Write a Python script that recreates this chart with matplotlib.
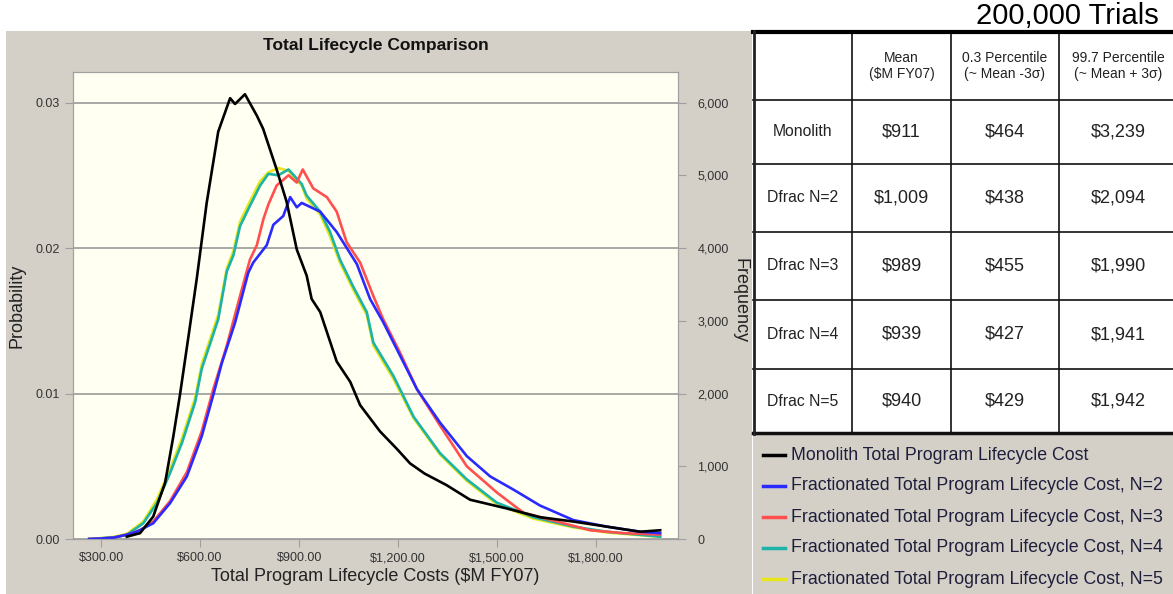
"""Total lifecycle cost distributions: monolith vs fractionated architectures."""

import matplotlib

matplotlib.use("Agg")
import matplotlib.pyplot as plt
from matplotlib.lines import Line2D
from matplotlib.ticker import FixedLocator, FuncFormatter

plt.rcParams["font.family"] = ["Liberation Sans", "DejaVu Sans"]

TRIALS = 200000

# Curves (cost in $M FY07, probability per bin)
mono_x = [378, 418, 458, 494, 519, 539, 565, 590, 620, 655, 691, 706, 736, 772,
          791, 832, 862, 893, 923, 938, 964, 1014, 1055, 1085, 1145, 1196, 1236,
          1280, 1347, 1418, 1529, 1630, 1731, 1832, 1933, 1994]
mono_p = [0.00016, 0.0004, 0.00154, 0.00386, 0.00706, 0.0099, 0.01395, 0.0179,
          0.0231, 0.0280, 0.0303, 0.0299, 0.03057, 0.0291, 0.0282, 0.0254,
          0.0232, 0.0199, 0.0181, 0.0165, 0.0156, 0.0122, 0.0108, 0.0092,
          0.0074, 0.0062, 0.0052, 0.0045, 0.0037, 0.0027, 0.0021, 0.0015,
          0.0012, 0.00085, 0.0005, 0.0006]

n2_x = [264, 300, 340, 378, 408, 458, 509, 560, 605, 640, 666, 706, 746, 761,
        802, 822, 852, 873, 893, 908, 964, 1014, 1075, 1115, 1155, 1206, 1257,
        1327, 1408, 1479, 1549, 1630, 1731, 1832, 1933, 1994]
n2_p = [0.0, 0.00003, 0.0001, 0.0003, 0.0005, 0.00108, 0.00246, 0.0043, 0.00706,
        0.0099, 0.0121, 0.01487, 0.0183, 0.0190, 0.0202, 0.0216, 0.0222, 0.0235,
        0.0228, 0.0231, 0.0225, 0.0211, 0.0189, 0.0165, 0.0149, 0.0126, 0.0103,
        0.0080, 0.0057, 0.0043, 0.0034, 0.0023, 0.0013, 0.00085, 0.0005, 0.0004]

n3_x = [264, 300, 340, 378, 418, 458, 509, 560, 605, 640, 681, 721, 751, 772,
        792, 807, 832, 868, 893, 911, 943, 984, 1014, 1044, 1085, 1125, 1155,
        1206, 1257, 1327, 1408, 1499, 1580, 1681, 1782, 1883, 1994]
n3_p = [0.0, 0.00003, 0.0001, 0.0003, 0.0006, 0.0012, 0.0026, 0.0046, 0.0074,
        0.0103, 0.0133, 0.0167, 0.0192, 0.0202, 0.0220, 0.0230, 0.0243, 0.0250,
        0.0245, 0.0254, 0.0241, 0.0235, 0.0225, 0.0204, 0.0190, 0.0167, 0.0151,
        0.0128, 0.0103, 0.0078, 0.0050, 0.0032, 0.0018, 0.0012, 0.0006, 0.0004,
        0.0003]

n4_x = [264, 300, 340, 378, 428, 469, 509, 545, 585, 605, 655, 681, 701, 721,
        751, 782, 807, 837, 868, 908, 923, 964, 994, 1024, 1065, 1105, 1125,
        1186, 1247, 1327, 1408, 1499, 1610, 1731, 1832, 1994]
n4_p = [0.0, 0.00005, 0.00012, 0.00028, 0.00108, 0.00246, 0.00453, 0.0066,
        0.0094, 0.0117, 0.0151, 0.0184, 0.0195, 0.0215, 0.0229, 0.0243, 0.0251,
        0.0250, 0.0254, 0.0244, 0.0236, 0.0225, 0.0211, 0.0192, 0.0173, 0.0156,
        0.0135, 0.0112, 0.0084, 0.0059, 0.0041, 0.0025, 0.0015, 0.00085,
        0.0005, 0.00016]

n5_x = n4_x
n5_p = [0.0, 0.00006, 0.00015, 0.00035, 0.0012, 0.0027, 0.0048, 0.0069, 0.0097,
        0.0120, 0.0154, 0.0186, 0.0198, 0.0218, 0.0232, 0.0246, 0.0252, 0.0255,
        0.0253, 0.0243, 0.0234, 0.0223, 0.0208, 0.0190, 0.0171, 0.0154, 0.0133,
        0.0110, 0.0083, 0.0058, 0.0040, 0.0024, 0.0014, 0.0008, 0.00045,
        0.00015]

series_labels = [
    "Monolith Total Program Lifecycle Cost",
    "Fractionated Total Program Lifecycle Cost, N=2",
    "Fractionated Total Program Lifecycle Cost, N=3",
    "Fractionated Total Program Lifecycle Cost, N=4",
    "Fractionated Total Program Lifecycle Cost, N=5",
]
series_colors = ["#000000", "#2a2aff", "#ff4f4f", "#1db3a6", "#e6e61a"]

x_ticks = [300, 600, 900, 1200, 1500, 1800]
prob_ticks = [0.0, 0.01, 0.02, 0.03]
freq_ticks = [0, 1000, 2000, 3000, 4000, 5000, 6000]

# Summary table
table_cols = ["Mean\n($M FY07)", "0.3 Percentile\n(~ Mean -3σ)",
              "99.7 Percentile\n(~ Mean + 3σ)"]
table_rows = ["Monolith", "Dfrac N=2", "Dfrac N=3", "Dfrac N=4", "Dfrac N=5"]
mean_cost = [911, 1009, 989, 939, 940]
p003_cost = [464, 438, 455, 427, 429]
p997_cost = [3239, 2094, 1990, 1941, 1942]

W, H = 1173, 594
fig = plt.figure(figsize=(W / 100, H / 100), dpi=100)
fig.patch.set_facecolor("white")

# Overlay in pixel coordinates for panels, table and legend
ov = fig.add_axes([0, 0, 1, 1], zorder=0)
ov.set_xlim(0, W)
ov.set_ylim(H, 0)
ov.axis("off")
ov.add_patch(plt.Rectangle((6, 31), 746, H - 31, facecolor="#d4d0c8",
                           edgecolor="none"))
ov.add_patch(plt.Rectangle((753, 434), W - 753, H - 434, facecolor="#d4d0c8",
                           edgecolor="none"))

ax = fig.add_axes([73 / W, 1 - 539 / H, 605 / W, 467 / H], zorder=2)
ax.set_facecolor("#fffff2")
curves = [(mono_x, mono_p), (n2_x, n2_p), (n3_x, n3_p), (n4_x, n4_p), (n5_x, n5_p)]
for i in reversed(range(len(curves))):
    xs, ps = curves[i]
    ax.plot(xs, ps, color=series_colors[i], lw=1.9, zorder=3 + (4 - i))

ax.set_xlim(215, 2048)
ax.set_ylim(0, 0.0321)
ax.xaxis.set_major_locator(FixedLocator(x_ticks))
ax.xaxis.set_major_formatter(FuncFormatter(lambda v, _: f"${v:,.2f}"))
ax.yaxis.set_major_locator(FixedLocator(prob_ticks))
ax.yaxis.set_major_formatter(FuncFormatter(lambda v, _: f"{v:.2f}"))
ax.grid(axis="y", color="#9a9a9a", lw=1.2)
ax.set_axisbelow(True)
for s in ax.spines.values():
    s.set_color("#a0a0a0")
ax.tick_params(colors="#a0a0a0", labelcolor="#333333", labelsize=9, length=6)
ax.set_title("Total Lifecycle Comparison", fontsize=12.5, fontweight="bold",
             pad=16, color="#111111")
ax.set_ylabel("Probability", fontsize=13, color="#222222")
ax.yaxis.set_label_coords(-0.078, 0.5)
ax.set_xlabel("Total Program Lifecycle Costs ($M FY07)", fontsize=13,
              color="#222222")
ax.xaxis.set_label_coords(0.5, -0.062)

ax2 = ax.twinx()
ax2.set_ylim(ax.get_ylim()[0] * TRIALS, ax.get_ylim()[1] * TRIALS)
ax2.yaxis.set_major_locator(FixedLocator(freq_ticks))
ax2.yaxis.set_major_formatter(FuncFormatter(lambda v, _: f"{v:,.0f}"))
for s in ax2.spines.values():
    s.set_color("#a0a0a0")
ax2.tick_params(colors="#a0a0a0", labelcolor="#333333", labelsize=9, length=6,
                pad=8)
fig.text(740 / W, 1 - 300 / H, "Frequency", rotation=270, ha="center",
         va="center", fontsize=13, color="#222222")

# Table
col_edges = [753, 852, 951, 1059, 1178]
row_edges = [32, 100, 164, 232, 300, 369, 433]
for yy in row_edges[1:-1]:
    ov.plot([753, 1178], [yy, yy], color="#111111", lw=1.2)
for xx in col_edges[1:-1]:
    ov.plot([xx, xx], [32, 433], color="#111111", lw=1.2)
ov.plot([753, 1178], [32, 32], color="#000000", lw=3)
ov.plot([753, 1178], [433, 433], color="#111111", lw=2.5)
ov.plot([754, 754], [31, 434], color="#222222", lw=2)

cx = [(col_edges[i] + col_edges[i + 1]) / 2 for i in range(4)]
cy = [(row_edges[i] + row_edges[i + 1]) / 2 for i in range(6)]
for j, lab in enumerate(table_cols):
    ov.text(cx[j + 1], cy[0], lab, ha="center", va="center", fontsize=10,
            color="#222222", linespacing=1.2)
for i, lab in enumerate(table_rows):
    ov.text(cx[0], cy[i + 1], lab, ha="center", va="center", fontsize=11.3,
            color="#222222")
    for j, vals in enumerate([mean_cost, p003_cost, p997_cost]):
        ov.text(cx[j + 1], cy[i + 1], f"${vals[i]:,}", ha="center", va="center",
                fontsize=13, color="#222222")
ov.text(1159, 16, f"{TRIALS:,} Trials", ha="right", va="center", fontsize=21,
        color="#000000")

# Legend
leg_y = [455, 486, 517, 548, 579]
for i, lab in enumerate(series_labels):
    ov.add_line(Line2D([763, 785], [leg_y[i], leg_y[i]], color=series_colors[i],
                       lw=2.5))
    ov.text(791, leg_y[i], lab, ha="left", va="center", fontsize=12.8,
            color="#1e1e3c")

fig.savefig("out.png", dpi=100)
